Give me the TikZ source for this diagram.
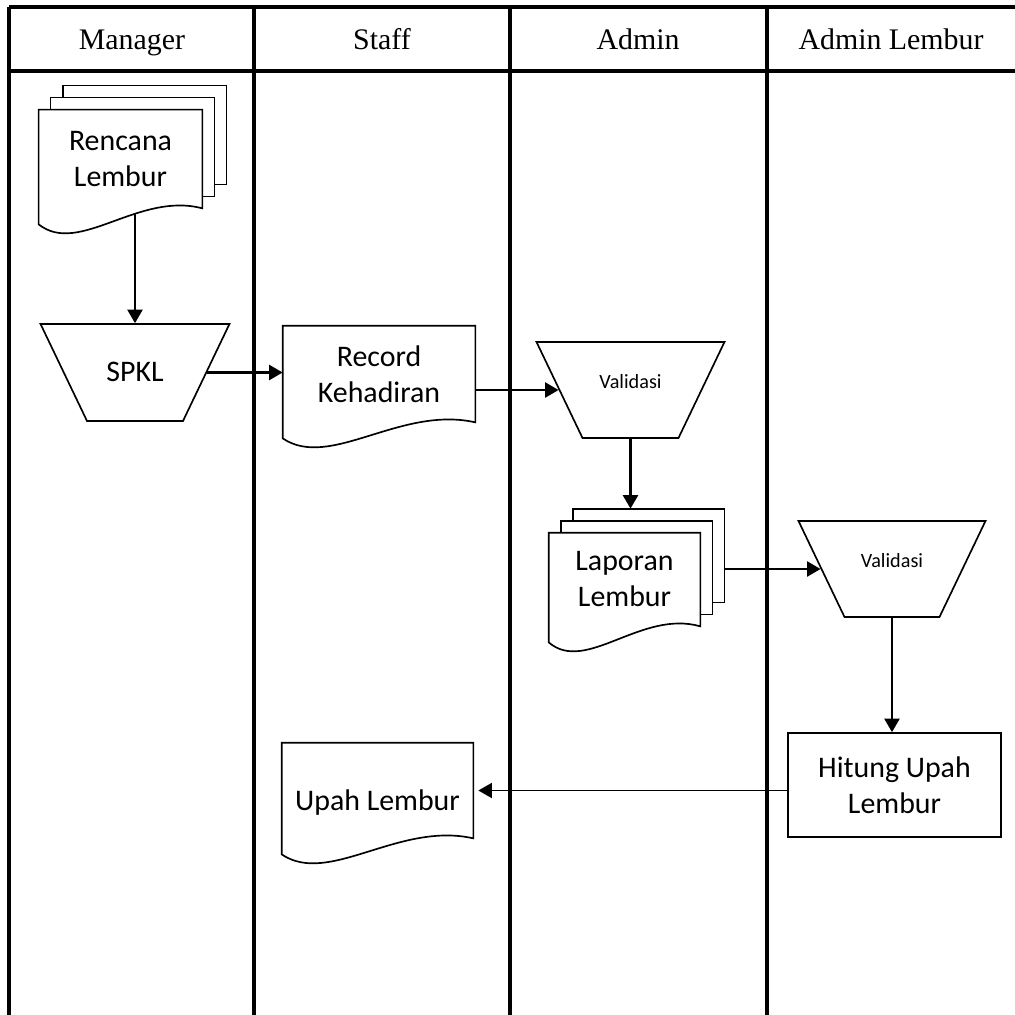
\documentclass[tikz,border=0pt]{standalone}
\usepackage{fontspec}
\setmainfont{Liberation Serif}
\newfontfamily\calibri{Carlito}
\usetikzlibrary{shapes.geometric, arrows.meta, calc}
\pgfdeclarelayer{lanes}
\pgfdeclarelayer{pages}
\pgfsetlayers{lanes,pages,main}

% document outline with wavy bottom, drawn behind the node text
\newcommand{\docoutline}[1]{%
  \begin{pgfonlayer}{pages}
  \draw[shapeline, fill=white] ($(#1.south west)+(0,16)$) -- (#1.north west) -- (#1.north east) -- (#1.south east)
    .. controls ($(#1.south west)!0.61!(#1.south east)+(0,-17)$) and ($(#1.south west)!0.245!(#1.south east)+(0,48)$) .. ($(#1.south west)+(0,16)$) -- cycle;
  \end{pgfonlayer}
}
% stacked documents
\newcommand{\multidoc}[1]{%
  \begin{pgfonlayer}{pages}
  \draw[shapeline, fill=white] ($(#1.north west)+(24,-24)$) rectangle ($(#1.south east)+(24,-24)$);
  \draw[shapeline, fill=white] ($(#1.north west)+(12,-12)$) rectangle ($(#1.south east)+(12,-12)$);
  \end{pgfonlayer}
  \docoutline{#1}
  \coordinate (#1-top) at ($(#1.north)+(24,-24)$);
  \coordinate (#1-east) at ($(#1.east)+(24,0)$);
}

\begin{document}
\begin{tikzpicture}[x=0.02cm, y=-0.02cm,
  shapeline/.style={line width=0.95pt},
  laneline/.style={line width=2pt},
  lanehead/.style={font=\fontsize{17pt}{20pt}\selectfont, text height=12pt, text depth=4pt},
  docnode/.style={inner sep=0pt, align=center, font=\calibri\fontsize{17pt}{20.5pt}\selectfont},
  trap/.style={trapezium, draw, shapeline, fill=white, shape border rotate=180, trapezium angle=64.4,
    inner sep=0pt, text width=1.92cm, align=center, font=\calibri\fontsize{17pt}{20.5pt}\selectfont},
  flow/.style={-{Triangle[length=0.27cm, width=0.3cm]}, line width=1.3pt}]
  \useasboundingbox (0,0) rectangle (1015,1015);

  % Lanes
  \begin{pgfonlayer}{lanes}
    \draw[laneline] (9,7) -- (1015,7);
    \draw[laneline] (9,71) -- (1015,71);
    \foreach \x in {9,254,510,767}
      \draw[laneline] (\x,7) -- (\x,1015);
  \end{pgfonlayer}
  \node[lanehead] (hmanager) at (132,42) {Manager};
  \node[lanehead] (hstaff) at (382,42) {Staff};
  \node[lanehead] (hadmin) at (638,42) {Admin};
  \node[lanehead] (hlembur) at (891,42) {Admin Lembur};

  % Manager
  \node[docnode, minimum width=3.26cm, minimum height=1.96cm] (rencana) at (120.5,159) {Rencana\\Lembur};
  \multidoc{rencana}
  \node[trap, text height=1.14cm, text depth=0.8cm] (spkl) at (135,372.5) {SPKL};

  % Staff
  \node[docnode, minimum width=3.84cm, minimum height=1.92cm] (record) at (379,374) {Record\\Kehadiran};
  \docoutline{record}
  \node[docnode, minimum width=3.82cm, minimum height=1.9cm, text height=0.78cm, text depth=0pt] (upah) at (377.5,790.5) {Upah Lembur};
  \docoutline{upah}

  % Admin
  \node[trap, text height=0.93cm, text depth=0.99cm, font=\calibri\fontsize{11.5pt}{14pt}\selectfont] (valadmin) at (630.5,390) {Validasi};
  \node[docnode, minimum width=3.02cm, minimum height=1.86cm] (laporan) at (624.5,579.5) {Laporan\\Lembur};
  \multidoc{laporan}

  % Admin lembur
  \node[trap, text height=0.93cm, text depth=0.99cm, text width=1.9cm, font=\calibri\fontsize{11.5pt}{14pt}\selectfont] (vallembur) at (892,569) {Validasi};
  \node[draw, shapeline, docnode, minimum width=4.26cm, minimum height=2.08cm] (hitung) at (894.5,785) {Hitung Upah\\Lembur};

  % Flow
  \begin{pgfonlayer}{lanes}
    \draw[flow] (rencana.south -| spkl.north) -- (spkl.north);
    \draw[flow] (spkl.0) -- (spkl.0 -| record.west);
    \draw[flow] (record.east |- valadmin.180) -- (valadmin.180);
    \draw[flow] (valadmin.270) -- (valadmin.270 |- laporan-top);
    \draw[flow] (laporan-east |- vallembur.180) -- (vallembur.180);
    \draw[flow] (vallembur.270) -- (vallembur.270 |- hitung.north);
    \draw[flow, line width=0.9pt, shorten >=0.1cm] (hitung.west |- upah.east) -- (upah.east);
  \end{pgfonlayer}
\end{tikzpicture}
\end{document}
